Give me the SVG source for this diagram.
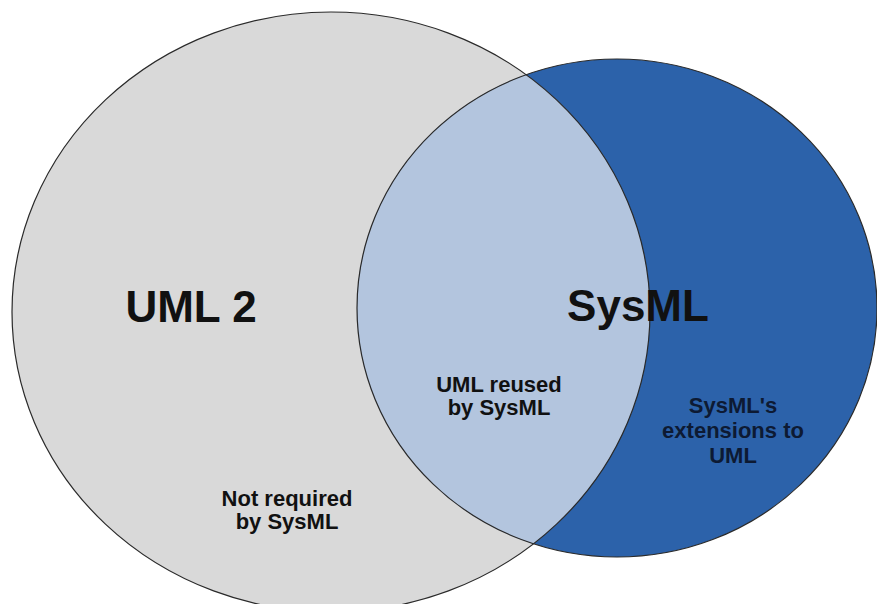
<svg xmlns="http://www.w3.org/2000/svg" width="877" height="604" viewBox="0 0 877 604">
  <style>
    .lbl { font-family: "Liberation Sans", Arial, sans-serif; font-weight: bold; text-anchor: middle; fill: #111111; }
    .big { font-size: 44px; }
    .small { font-size: 22px; }
    .outline { fill: none; stroke: #2a2a2a; stroke-width: 1.2; }
  </style>
  <defs>
    <clipPath id="grayClip">
      <ellipse cx="331" cy="312" rx="319" ry="300"/>
    </clipPath>
  </defs>
  <rect width="877" height="604" fill="#ffffff"/>
  <g id="uml2">
    <ellipse cx="331" cy="312" rx="319" ry="300" fill="#d9d9d9"/>
  </g>
  <g id="sysml">
    <ellipse cx="617" cy="308" rx="260" ry="249" fill="#2c62aa"/>
  </g>
  <g id="overlap">
    <ellipse cx="617" cy="308" rx="260" ry="249" fill="#b3c5de" clip-path="url(#grayClip)"/>
  </g>
  <g id="outlines">
    <ellipse class="outline" cx="331" cy="312" rx="319" ry="300"/>
    <ellipse class="outline" cx="617" cy="308" rx="260" ry="249"/>
  </g>
  <g id="labels">
    <text class="lbl big" x="191" y="322">UML 2</text>
    <text class="lbl big" x="638" y="321">SysML</text>
    <text class="lbl small" x="499" y="392">UML reused</text>
    <text class="lbl small" x="499" y="415">by SysML</text>
    <text class="lbl small" x="733" y="413" style="fill:#0d1a33">SysML's</text>
    <text class="lbl small" x="733" y="438" style="fill:#0d1a33">extensions to</text>
    <text class="lbl small" x="733" y="463" style="fill:#0d1a33">UML</text>
    <text class="lbl small" x="287" y="506">Not required</text>
    <text class="lbl small" x="287" y="529">by SysML</text>
  </g>
</svg>
